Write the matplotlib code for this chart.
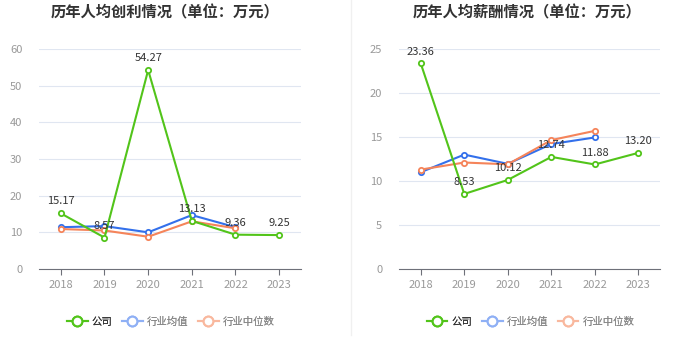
import matplotlib.pyplot as plt
from matplotlib.lines import Line2D

plt.rcParams['font.family'] = ['Noto Sans CJK SC', 'DejaVu Sans']

years = ['2018', '2019', '2020', '2021', '2022', '2023']

# 人均创利
profit_company = [15.17, 8.57, 54.27, 13.13, 9.36, 9.25]
profit_avg = [11.4, 11.7, 10.0, 14.7, 11.4]
profit_median = [10.9, 10.5, 8.8, 13.0, 11.1]

# 人均薪酬
salary_company = [23.36, 8.53, 10.12, 12.74, 11.88, 13.20]
salary_avg = [11.0, 13.0, 11.95, 14.2, 14.95]
salary_median = [11.3, 12.1, 11.9, 14.65, 15.7]

GREEN = '#52c41a'
BLUE = '#3370eb'
ORANGE = '#f5845a'
GRID = '#e0e6f1'
TXT = '#333333'
TICK = '#999999'


def draw(ax, title, company, avg, median, ymax, step, tx):
    x = list(range(len(years)))
    for i in range(0, ymax + 1, step):
        ax.axhline(i, color=GRID, lw=0.8, zorder=0)
    ax.plot(x[:len(avg)], avg, color=BLUE, lw=1.5, marker='o', ms=3.8,
            mfc='white', mec=BLUE, mew=1.3, zorder=3)
    ax.plot(x[:len(median)], median, color=ORANGE, lw=1.5, marker='o', ms=3.8,
            mfc='white', mec=ORANGE, mew=1.3, zorder=3)
    ax.plot(x, company, color=GREEN, lw=1.5, marker='o', ms=3.8,
            mfc='white', mec=GREEN, mew=1.3, zorder=4)
    for xi, v in zip(x, company):
        ax.annotate(f'{v:.2f}', (xi, v), xytext=(0, 5), textcoords='offset points',
                    ha='center', va='bottom', fontsize=8, color=TXT, zorder=5)
    ax.set_xlim(-0.5, len(years) - 0.5)
    ax.set_ylim(0, ymax)
    ax.set_xticks(x)
    ax.set_xticklabels(years)
    ax.set_yticks(range(0, ymax + 1, step))
    ax.tick_params(axis='x', colors='#6e7079', labelcolor=TICK, labelsize=8, length=4, pad=4)
    ax.tick_params(axis='y', length=0, labelcolor=TICK, labelsize=8, pad=12)
    for s in ['top', 'right', 'left']:
        ax.spines[s].set_visible(False)
    ax.spines['bottom'].set_color('#6e7079')
    ax.patch.set_alpha(0)
    fig.text(tx, 0.965, title, ha='center', va='center', fontsize=11,
             fontweight='bold', color=TXT)


fig = plt.figure(figsize=(7, 3.6), dpi=100)
ax1 = fig.add_axes([0.0557, 0.2528, 0.3743, 0.611])
ax2 = fig.add_axes([0.570, 0.2528, 0.373, 0.611])

draw(ax1, '历年人均创利情况（单位：万元）', profit_company, profit_avg, profit_median, 60, 10, 0.236)
draw(ax2, '历年人均薪酬情况（单位：万元）', salary_company, salary_avg, salary_median, 25, 5, 0.753)

fig.add_artist(Line2D([0.501, 0.501], [0.07, 1.0], color='#f0f0f0', lw=1))

handles = [
    Line2D([], [], color=GREEN, lw=1.5, marker='o', ms=7, mfc='white', mec=GREEN, mew=1.5),
    Line2D([], [], color='#8fb0f5', lw=1.5, marker='o', ms=7, mfc='white', mec='#8fb0f5', mew=1.5),
    Line2D([], [], color='#f9b89e', lw=1.5, marker='o', ms=7, mfc='white', mec='#f9b89e', mew=1.5),
]
names = ['公司', '行业均值', '行业中位数']
for cx in [0.244, 0.758]:
    leg = fig.legend(handles, names, loc='center', bbox_to_anchor=(cx, 0.106), ncol=3,
                     frameon=False, fontsize=7.5, handlelength=2.0, columnspacing=0.9,
                     handletextpad=0.4)
    for t, c in zip(leg.get_texts(), ['#333333', '#888888', '#888888']):
        t.set_color(c)
    fig.add_artist(leg)

fig.savefig('out.png', dpi=100)
